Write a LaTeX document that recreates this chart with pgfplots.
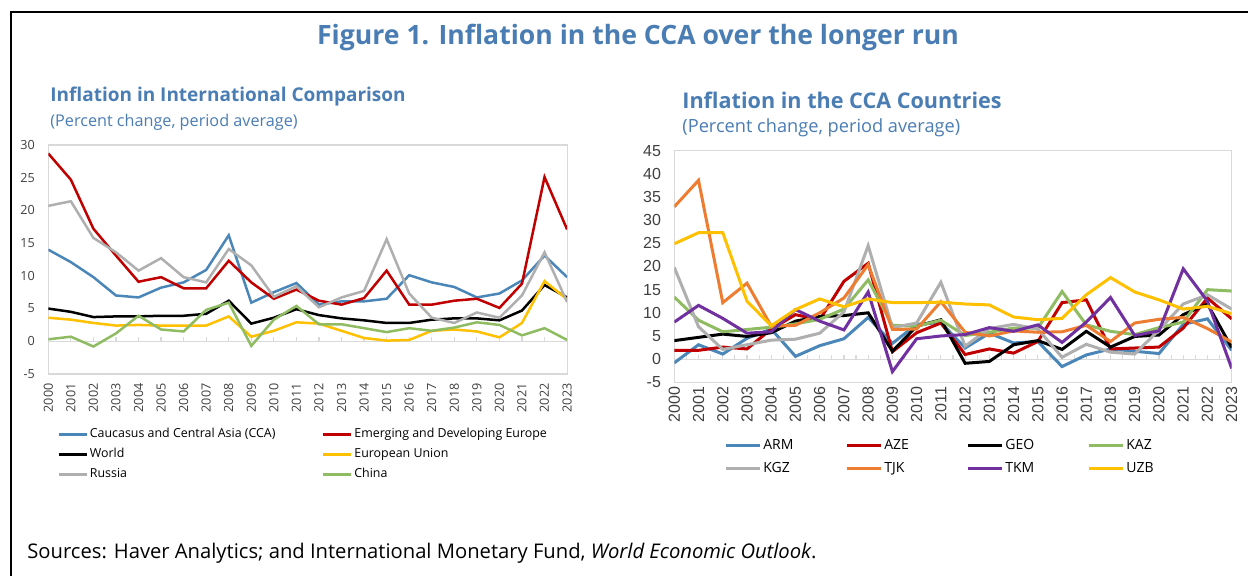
\documentclass[border=0pt]{standalone}
\usepackage{fontspec}
\setmainfont{Open Sans}
\newfontfamily\arialf{Liberation Sans}
\usepackage{pgfplots}
\usepackage{pgfplotstable}
\pgfplotsset{compat=1.18}

\definecolor{ttl}{HTML}{4A7DB4}
\definecolor{boxc}{HTML}{D9D9D9}
\definecolor{tickc}{HTML}{404040}
\definecolor{cblue}{HTML}{4A86B8}
\definecolor{cred}{HTML}{C00000}
\definecolor{cyel}{HTML}{FFC000}
\definecolor{cgray}{HTML}{AFAFAF}
\definecolor{cgreen}{HTML}{8FBC62}
\definecolor{corange}{HTML}{ED7D31}
\definecolor{cpurple}{HTML}{7030A0}

% Inflation in international comparison (percent)
\pgfplotstableread{
year cca  ede  world eu  rus  chn
2000 14.0 28.7 5.0  3.6 20.7  0.3
2001 12.1 24.7 4.5  3.3 21.4  0.7
2002  9.8 17.2 3.7  2.8 15.8 -0.8
2003  7.0 13.1 3.8  2.4 13.6  1.2
2004  6.7  9.1 3.8  2.5 10.8  3.9
2005  8.2  9.8 3.9  2.4 12.7  1.8
2006  9.0  8.1 3.9  2.4  9.8  1.5
2007 10.9  8.1 4.2  2.4  9.0  4.8
2008 16.2 12.3 6.2  3.8 14.1  5.9
2009  5.9  9.0 2.7  0.7 11.6 -0.7
2010  7.5  6.5 3.6  1.6  6.8  3.3
2011  8.9  7.9 4.9  2.9  8.4  5.4
2012  5.6  6.2 4.0  2.7  5.2  2.6
2013  6.1  5.6 3.5  1.6  6.7  2.6
2014  6.1  6.6 3.2  0.5  7.7  2.0
2015  6.5 10.8 2.8  0.1 15.6  1.4
2016 10.1  5.6 2.8  0.2  7.3  2.0
2017  9.0  5.6 3.3  1.6  3.6  1.6
2018  8.3  6.2 3.5  1.8  2.8  2.1
2019  6.7  6.5 3.5  1.5  4.4  2.9
2020  7.3  5.1 3.2  0.6  3.6  2.5
2021  9.3  8.8 4.7  2.8  7.0  0.9
2022 13.1 25.1 8.6  9.2 13.6  2.0
2023  9.8 17.1 6.7  6.4  6.0  0.2
}\intl

% Inflation in the CCA countries (percent)
\pgfplotstableread{
year arm  aze  geo  kaz  kgz  tjk  tkm  uzb
2000 -0.8  1.9  4.0 13.4 19.8 32.9  8.0 24.9
2001  3.1  1.9  4.7  8.4  7.0 38.6 11.6 27.3
2002  1.1  2.6  5.4  5.9  2.1 12.2  8.8 27.3
2003  4.5  2.2  4.9  6.4  3.1 16.4  5.6 12.5
2004  6.5  6.5  5.7  6.9  4.1  7.1  5.9  7.2
2005  0.6  9.6  8.2  7.6  4.3  7.3 10.7 10.7
2006  2.9  8.5  9.2  8.6  5.6 10.0  8.2 13.0
2007  4.4 16.8  9.4 10.8 10.2 13.2  6.3 11.3
2008  9.0 20.7 10.0 17.1 24.5 20.4 14.5 13.0
2009  3.4  1.6  1.7  7.3  6.8  6.4 -2.7 12.2
2010  7.5  5.7  7.1  7.1  7.8  6.5  4.4 12.2
2011  7.9  7.8  8.5  8.4 16.6 12.4  5.0 12.3
2012  2.4  1.0 -0.9  5.1  2.8  5.8  5.3 11.9
2013  5.6  2.2 -0.5  5.8  6.6  5.0  6.8 11.7
2014  3.5  1.3  3.1  6.7  7.5  6.1  6.0  9.1
2015  3.8  3.8  4.0  6.7  6.5  5.8  7.4  8.5
2016 -1.6 12.2  2.1 14.6  0.4  5.9  3.6  8.8
2017  0.9 12.8  6.0  7.4  3.2  7.3  8.0 13.9
2018  2.2  2.2  2.6  6.0  1.5  3.8 13.3 17.6
2019  1.7  2.4  4.9  5.3  1.1  7.8  5.1 14.5
2020  1.2  2.6  5.2  6.8  6.3  8.6  6.1 12.8
2021  7.5  6.7  9.6  8.0 11.9  9.0 19.5 10.8
2022  8.7 13.2 11.9 15.0 13.9  6.6 12.5 11.4
2023  1.9  8.7  2.5 14.7 10.8  3.7 -2.0  9.8
}\cca

\pgfplotsset{
  panel/.style={
    scale only axis,
    axis line style={draw=boxc, line width=0.6pt},
    major tick length=0pt,
    xmin=2000, xmax=2023,
    xtick={2000,...,2023},
    /pgf/number format/1000 sep={},
    /pgf/number format/assume math mode=true,
    tick label style={color=tickc, inner sep=0pt},
    xticklabel style={rotate=90, anchor=east},
    legend cell align=left,
  },
}

\begin{document}
\begin{tikzpicture}
\useasboundingbox (0,0) rectangle (624pt,288pt);
\fill[white] (0,0) rectangle (624pt,288pt);
\draw[line width=1pt] (5.5pt,282pt) -- (624pt,282pt);
\draw[line width=0.9pt] (5.5pt,282.5pt) -- (5.5pt,0pt);

\node[ttl, font=\bfseries\fontsize{13.3}{15}\selectfont] at (319pt,269pt)
  {Figure 1. Inflation in the CCA over the longer run};
\node[ttl, anchor=west, inner sep=0pt, font=\bfseries\fontsize{9.5}{12}\selectfont] at (25pt,239.5pt)
  {Inflation in International Comparison};
\node[ttl, anchor=west, inner sep=0pt, font=\fontsize{8.1}{10}\selectfont] at (25pt,227pt)
  {(Percent change, period average)};
\node[ttl, anchor=west, inner sep=0pt, font=\bfseries\fontsize{10.8}{12}\selectfont] at (341pt,238pt)
  {Inflation in the CCA Countries};
\node[ttl, anchor=west, inner sep=0pt, font=\fontsize{9.1}{11}\selectfont] at (341pt,224pt)
  {(Percent change, period average)};
\node[anchor=west, inner sep=0pt, font=\fontsize{10.1}{12}\selectfont] at (13.5pt,11.5pt)
  {Sources: Haver Analytics; and International Monetary Fund, \textit{World Economic Outlook}.};

% left panel
\begin{axis}[panel,
  at={(24.15pt,101pt)}, anchor=south west,
  width=259.4pt, height=114.5pt,
  ymin=-5, ymax=30, ytick={-5,0,...,30},
  tick label style={font=\fontsize{6.3}{7}\selectfont},
  xticklabel shift=4.5pt, yticklabel shift=6.5pt,
  legend columns=2,
  legend image code/.code={\draw[#1] (0pt,0pt) -- (14pt,0pt);},
  legend style={at={(0.0168,-0.225)}, anchor=north west, draw=none, fill=none,
    inner sep=0pt, row sep=1.5pt, font=\fontsize{6.2}{8}\selectfont,
    nodes={inner xsep=1pt, inner ysep=1pt, text height=5pt, text depth=1.5pt}},
  every axis plot/.append style={line width=1.25pt},
]
\draw[boxc, line width=0.6pt] (axis cs:2000,0) -- (axis cs:2023,0);
\pgfplotsinvokeforeach{2001,2002,2003,2004,2005,2006,2007,2008,2009,2010,2011,2012,2013,2014,2015,2016,2017,2018,2019,2020,2021,2022}{\draw[boxc, line width=0.6pt] (axis cs:#1,0) -- (axis cs:#1,0.6);}
\addplot[cblue] table[x=year, y=cca] {\intl};
\addlegendentry{\makebox[115pt][l]{Caucasus and Central Asia (CCA)}}
\addplot[cred] table[x=year, y=ede] {\intl};
\addlegendentry{Emerging and Developing Europe}
\addplot[black] table[x=year, y=world] {\intl};
\addlegendentry{\makebox[115pt][l]{World}}
\addplot[cyel] table[x=year, y=eu] {\intl};
\addlegendentry{European Union}
\addplot[cgray] table[x=year, y=rus] {\intl};
\addlegendentry{\makebox[115pt][l]{Russia}}
\addplot[cgreen] table[x=year, y=chn] {\intl};
\addlegendentry{China}
\end{axis}

% right panel
\begin{axis}[panel,
  at={(337.15pt,96.85pt)}, anchor=south west,
  width=278.7pt, height=115.8pt,
  ymin=-5, ymax=45, ytick={-5,0,...,45},
  tick label style={font=\arialf\fontsize{8}{9}\selectfont},
  xticklabel shift=2.2pt, yticklabel shift=6.5pt,
  legend columns=4,
  legend image code/.code={\draw[#1] (0pt,0pt) -- (17pt,0pt);},
  legend style={at={(0.089,-0.229)}, anchor=north west, draw=none, fill=none,
    inner sep=0pt, row sep=1.5pt, font=\fontsize{7}{9}\selectfont,
    nodes={inner xsep=1pt, inner ysep=1pt, text height=6pt, text depth=2pt}},
  every axis plot/.append style={line width=1.5pt},
]
\draw[boxc, line width=0.6pt] (axis cs:2000,0) -- (axis cs:2023,0);
\pgfplotsinvokeforeach{2000.5,2001,2001.5,2002,2002.5,2003,2003.5,2004,2004.5,2005,2005.5,2006,2006.5,2007,2007.5,2008,2008.5,2009,2009.5,2010,2010.5,2011,2011.5,2012,2012.5,2013,2013.5,2014,2014.5,2015,2015.5,2016,2016.5,2017,2017.5,2018,2018.5,2019,2019.5,2020,2020.5,2021,2021.5,2022,2022.5}{\draw[boxc, line width=0.6pt] (axis cs:#1,0) -- (axis cs:#1,0.9);}
\addplot[cblue] table[x=year, y=arm] {\cca};
\addlegendentry{\makebox[40pt][l]{ARM}}
\addplot[cred] table[x=year, y=aze] {\cca};
\addlegendentry{\makebox[40pt][l]{AZE}}
\addplot[black] table[x=year, y=geo] {\cca};
\addlegendentry{\makebox[40pt][l]{GEO}}
\addplot[cgreen] table[x=year, y=kaz] {\cca};
\addlegendentry{\makebox[40pt][l]{KAZ}}
\addplot[cgray] table[x=year, y=kgz] {\cca};
\addlegendentry{\makebox[40pt][l]{KGZ}}
\addplot[corange] table[x=year, y=tjk] {\cca};
\addlegendentry{\makebox[40pt][l]{TJK}}
\addplot[cpurple] table[x=year, y=tkm] {\cca};
\addlegendentry{\makebox[40pt][l]{TKM}}
\addplot[cyel] table[x=year, y=uzb] {\cca};
\addlegendentry{\makebox[40pt][l]{UZB}}
\end{axis}
\end{tikzpicture}
\end{document}
